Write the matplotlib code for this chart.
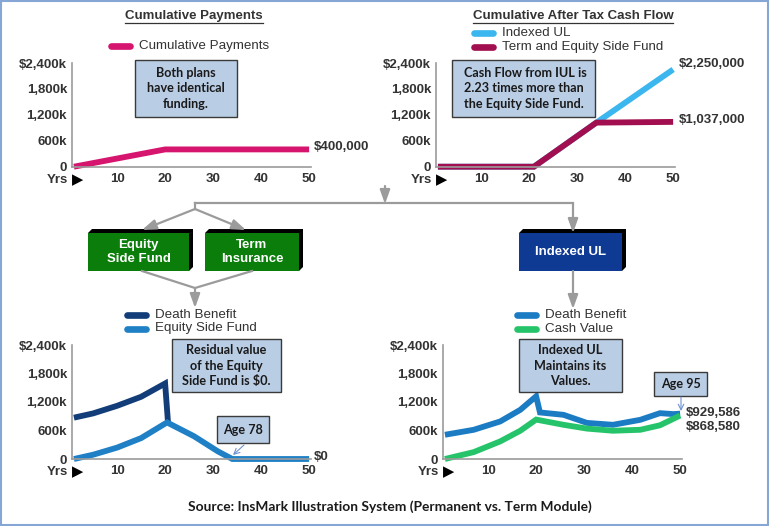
import matplotlib
matplotlib.use('Agg')
import matplotlib.pyplot as plt
from matplotlib.patches import Rectangle, Polygon

# ---- data (thousands of dollars, policy year) ----
pay_years = [1, 20, 50]
payments = [0, 400, 400]

cf_years = [1, 21, 34, 50]
cf_iul = [0, 0, 1020, 2250]
cf_term_esf = [0, 0, 1020, 1037]

term_db_years = [1, 5, 10, 15, 20, 20.6]
term_db = [870, 960, 1120, 1310, 1590, 770]
esf_years = [1, 5, 10, 15, 20.4, 26, 31, 34, 50]
esf_values = [0, 90, 240, 440, 770, 480, 160, 0, 0]

iul_db_years = [1, 7, 12.5, 16.7, 20, 20.8, 25.7, 30.6, 36, 41.7, 45.8, 48.6, 50]
iul_db = [510, 615, 790, 1035, 1320, 980, 930, 760, 720, 825, 965, 945, 955]
iul_cv_years = [1, 7, 12.5, 16.7, 20, 25.7, 30.6, 36, 41.7, 45.8, 50]
iul_cv = [0, 145, 370, 595, 830, 720, 640, 595, 615, 710, 915]

y_ticks = [0, 600, 1200, 1800, 2400]
y_tick_labels = ['0', '600k', '1,200k', '1,800k', '$2,400k']
x_ticks = [10, 20, 30, 40, 50]

W, H = 769, 526
TXT = '#333333'
GRAY = '#9b9b9b'
NOTE_FC = '#b9cde5'
SANS = ['Liberation Sans', 'DejaVu Sans']
NOTE_FONT = ['Lato', 'DejaVu Sans']

fig = plt.figure(figsize=(W / 100, H / 100), dpi=100)
fig.patch.set_facecolor('white')


def chart_axes(left, top, bottom):
  right = left + (50.3 - 0.6) * 4.8
  ax = fig.add_axes([left / W, 1 - bottom / H, (right - left) / W,
                     (bottom - top) / H])
  ax.set_facecolor('none')
  ax.set_xlim(0.6, 50.3)
  ax.set_ylim(0, 2400)
  for side in ('top', 'right'):
    ax.spines[side].set_visible(False)
  for side in ('left', 'bottom'):
    ax.spines[side].set_color(GRAY)
    ax.spines[side].set_linewidth(1.2)
  ax.set_yticks(y_ticks, y_tick_labels)
  ax.set_xticks(x_ticks, [str(t) for t in x_ticks])
  ax.tick_params(length=0, labelsize=9.5, labelcolor=TXT)
  ax.tick_params(axis='y', pad=3.6)
  ax.tick_params(axis='x', pad=4.5)
  for lab in ax.get_xticklabels() + ax.get_yticklabels():
    lab.set_fontweight('bold')
    lab.set_family(SANS)
  ax.annotate('Yrs', xy=(0, 0), xycoords='axes fraction', xytext=(-4, -13),
              textcoords='offset pixels', ha='right', va='center',
              fontsize=9.5, fontweight='bold', color=TXT, family=SANS)
  ax.annotate('\u25B6', xy=(0, 0), xycoords='axes fraction',
              xytext=(6, -13), textcoords='offset pixels', ha='center',
              va='center', fontsize=10.5, color='black', family=['DejaVu Sans'])
  return ax


def end_label(ax, x, y, text, dx, dy):
  ax.annotate(text, xy=(x, y), xytext=(dx, dy), textcoords='offset pixels',
              ha='left', va='center', fontsize=9.5, fontweight='bold',
              color=TXT, family=SANS, annotation_clip=False)


LW = 4.2
line_kw = dict(lw=LW, clip_on=False, solid_joinstyle='miter',
               solid_capstyle='butt')

# top left: cumulative payments
ax1 = chart_axes(72, 63, 166.7)
ax1.plot(pay_years, payments, color='#d6156f', **line_kw)
end_label(ax1, pay_years[-1], payments[-1], '$400,000', 5, 2)

# top right: cumulative after-tax cash flow
ax2 = chart_axes(436, 63, 166.7)
ax2.plot(cf_years, cf_iul, color='#3cb6ee', **line_kw)
ax2.plot(cf_years, cf_term_esf, color='#a20f50', **line_kw)
end_label(ax2, cf_years[-1], cf_iul[-1], '$2,250,000', 6, 5)
end_label(ax2, cf_years[-1], cf_term_esf[-1], '$1,037,000', 6, 2)

# bottom left: term + equity side fund
ax3 = chart_axes(72, 345, 459)
ax3.plot(term_db_years, term_db, color='#123d78', **line_kw)
ax3.plot(esf_years, esf_values, color='#1f80c6', **line_kw)
end_label(ax3, esf_years[-1], esf_values[-1], '$0', 5, 2)

# bottom right: indexed UL
ax4 = chart_axes(443, 345, 459)
ax4.plot(iul_db_years, iul_db, color='#1b7cc4', **line_kw)
ax4.plot(iul_cv_years, iul_cv, color='#25c46b', **line_kw)
end_label(ax4, iul_db_years[-1], iul_db[-1], '$929,586', 6, 1)
end_label(ax4, iul_cv_years[-1], iul_cv[-1], '$868,580', 6, -11)

# ---- overlay in pixel coordinates: titles, legends, notes, flow diagram ----
ov = fig.add_axes([0, 0, 1, 1])
ov.set_xlim(0, W)
ov.set_ylim(H, 0)
ov.axis('off')
ov.set_facecolor('none')

titles = []
for cx, label in [(194, 'Cumulative Payments'),
                  (573, 'Cumulative After Tax Cash Flow')]:
  titles.append(ov.text(cx, 16, label, ha='center', va='center',
                        fontsize=9.5, fontweight='bold', color=TXT,
                        family=SANS))

legend_items = [
    (111, 46, '#d6156f', 'Cumulative Payments'),
    (474, 33, '#3cb6ee', 'Indexed UL'),
    (474, 47, '#a20f50', 'Term and Equity Side Fund'),
    (127, 315, '#123d78', 'Death Benefit'),
    (127, 328.5, '#1f80c6', 'Equity Side Fund'),
    (517, 315, '#1b7cc4', 'Death Benefit'),
    (517, 328.5, '#25c46b', 'Cash Value'),
]
for x0, y0, color, label in legend_items:
  ov.plot([x0, x0 + 19], [y0, y0], color=color, lw=4.8,
          solid_capstyle='round')
  ov.text(x0 + 28, y0, label, ha='left', va='center', fontsize=9.6,
          color=TXT, family=SANS)

notes = [
    (135, 60, 237, 117, 'Both plans\nhave identical\nfunding.', 'center'),
    (452, 60, 595, 117,
     'Cash Flow from IUL is\n2.23 times more than\nthe Equity Side Fund.', 'left'),
    (172, 339, 281, 392, 'Residual value\nof the Equity\nSide Fund is $0.',
     'center'),
    (519, 339, 622, 392, 'Indexed UL\nMaintains its\nValues.', 'center'),
    (217, 416, 269, 443, 'Age 78', 'center'),
    (654, 372, 707, 396, 'Age 95', 'center'),
]
for x0, y0, x1, y1, label, align in notes:
  ov.add_patch(Rectangle((x0, y0), x1 - x0, y1 - y0, fc=NOTE_FC,
                         ec='#3a3a3a', lw=1.0))
  tx = (x0 + x1) / 2 if align == 'center' else x0 + 12
  ov.text(tx, (y0 + y1) / 2, label, ha=align, va='center', fontsize=9.1,
          fontweight='bold', color='#1a1a1a', family=NOTE_FONT,
          linespacing=1.35, multialignment=align)

ov.annotate('', xy=(233, 455), xytext=(244, 445),
            arrowprops=dict(arrowstyle='->', color='#6f92d2', lw=0.8,
                            shrinkA=0, shrinkB=0))
ov.annotate('', xy=(681, 411), xytext=(681, 397),
            arrowprops=dict(arrowstyle='->', color='#6f92d2', lw=0.8,
                            shrinkA=0, shrinkB=0))

# flow diagram
flow_kw = dict(arrowstyle='-|>,head_length=0.7,head_width=0.25',
               color=GRAY, lw=1.6, shrinkA=0, shrinkB=0, mutation_scale=12)
ov.plot([195, 573], [203, 203], color=GRAY, lw=1.6)
ov.plot([195, 195], [203, 209], color=GRAY, lw=1.6)
ov.plot([142, 195, 252], [271, 288, 271], color=GRAY, lw=1.6)
for tail, tip in [((385, 186), (385, 204)), ((195, 209), (142, 230)),
                  ((195, 209), (246, 230)), ((573, 203), (573, 233)),
                  ((195, 288), (195, 308)), ((573, 271), (573, 309))]:
  ov.annotate('', xy=tip, xytext=tail, arrowprops=flow_kw)

boxes = [
    (88, 233, 189, 271, '#0a7d0a', 'Equity\nSide Fund'),
    (205, 233, 299, 271, '#0a7d0a', 'Term\nInsurance'),
    (519, 233, 622, 271, '#0e3a94', 'Indexed UL'),
]
d = 4
for x0, y0, x1, y1, color, label in boxes:
  ov.add_patch(Polygon([(x0, y0), (x0 + d, y0 - d), (x1 + d, y0 - d),
                        (x1 + d, y1 - d), (x1, y1), (x1, y0)],
                       closed=True, fc='black', ec='none'))
  ov.add_patch(Rectangle((x0, y0), x1 - x0, y1 - y0, fc=color, ec='none'))
  ov.text((x0 + x1) / 2, (y0 + y1) / 2, label, ha='center', va='center',
          fontsize=9.5, fontweight='bold', color='white', family=SANS,
          linespacing=1.15)

ov.text(390, 507, 'Source: InsMark Illustration System (Permanent vs. Term Module)',
        ha='center', va='center', fontsize=9.9, fontweight='bold',
        color='#1a1a1a', family=NOTE_FONT)

# outer frame
ov.add_patch(Rectangle((1, 1), W - 2, H - 2, fc='none', ec='#86a6d6', lw=1.5))

# underline the two titles
fig.canvas.draw()
renderer = fig.canvas.get_renderer()
inv = ov.transData.inverted()
for t in titles:
  bb = t.get_window_extent(renderer)
  (xa, _), (xb, _) = inv.transform([(bb.x0, bb.y0), (bb.x1, bb.y0)])
  ov.plot([xa, xb], [23, 23], color=TXT, lw=0.9)

fig.savefig('out.png', dpi=100)
